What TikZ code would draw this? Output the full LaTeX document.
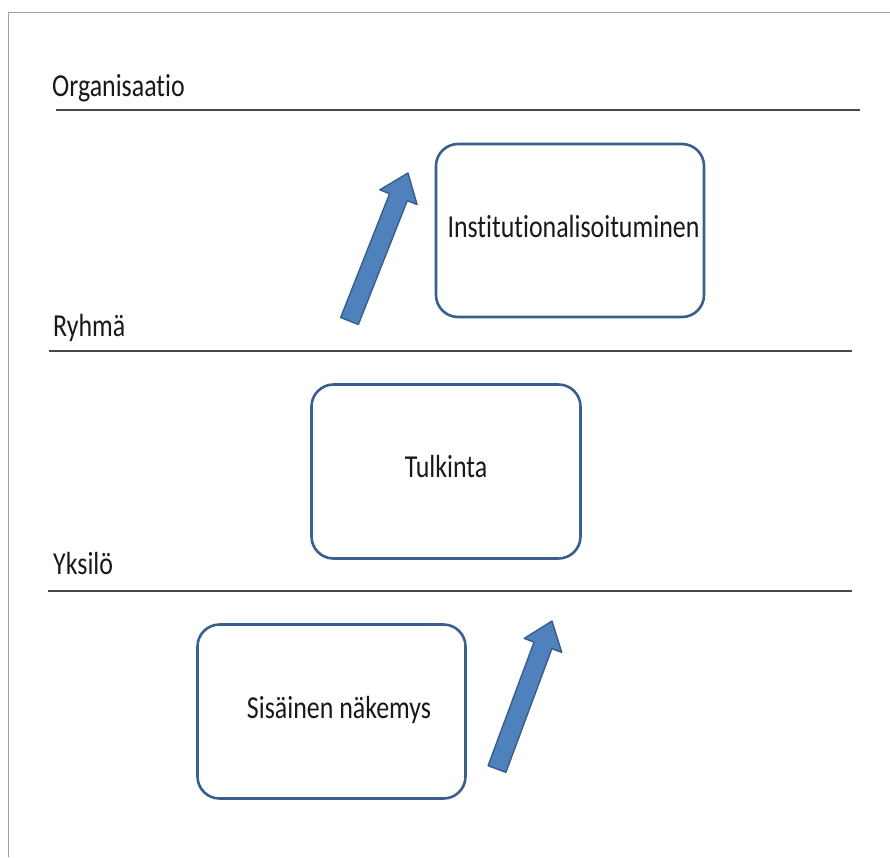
\documentclass[tikz,border=0pt]{standalone}
\usepackage{fontspec}
\setmainfont{Carlito}[FakeStretch=0.81, Ligatures=CommonOff]
\usetikzlibrary{calc}

\definecolor{boxline}{RGB}{58,95,142}
\definecolor{arrowfill}{RGB}{79,129,189}
\definecolor{arrowline}{RGB}{56,93,138}

\tikzset{
  levelline/.style={draw=black!72, line width=1.8pt},
  levellabel/.style={anchor=base west, inner sep=0pt, text=black!90,
    font=\fontsize{32}{38}\selectfont},
  stagebox/.style={draw=boxline, line width=2.6pt, rounded corners=22pt,
    fill=white, inner sep=0pt},
  stagetext/.style={anchor=base, inner sep=0pt, text=black!90,
    font=\fontsize{32}{38}\selectfont},
  blockarrow/.style={fill=arrowfill, draw=arrowline, line width=1.4pt,
    line join=round},
}

% block arrow from tail #1 to tip #2 (shaft half width 9.5, head half width 20, head length 26)
\newcommand{\blockarrowshape}[3]{%
  \coordinate (#3h) at ($(#2)!26pt!(#1)$);
  \path[blockarrow]
    ($(#1)!9.5pt!90:(#2)$) -- ($(#3h)!9.5pt!-90:(#1)$) --
    ($(#3h)!20pt!-90:(#1)$) -- (#2) --
    ($(#3h)!20pt!90:(#1)$) -- ($(#3h)!9.5pt!90:(#1)$) --
    ($(#1)!9.5pt!-90:(#2)$) -- cycle;
}

\begin{document}
\begin{tikzpicture}[x=1pt, y=-1pt]
  \useasboundingbox (0,0) rectangle (890,857);
  \fill[white] (0,0) rectangle (890,857);

  % page frame
  \draw[gray!75, line width=1pt] (8,857) -- (8,12) -- (890,12);

  % level separators
  \coordinate (orgL) at (56,110);  \coordinate (orgR) at (860,110);
  \coordinate (ryhL) at (49,351);  \coordinate (ryhR) at (852,351);
  \coordinate (yksL) at (48,591);  \coordinate (yksR) at (852,591);
  \draw[levelline] (orgL) -- (orgR);
  \draw[levelline] (ryhL) -- (ryhR);
  \draw[levelline] (yksL) -- (yksR);

  % level labels
  \node[levellabel] (org) at (52,96)  {Organisaatio};
  \node[levellabel] (ryh) at (53,336) {Ryhmä};
  \node[levellabel] (yks) at (53,574) {Yksilö};

  % stages
  \node[stagebox, minimum width=268pt, minimum height=173pt] (inst) at (570,230.5) {};
  \node[stagebox, minimum width=269pt, minimum height=174pt] (tulk) at (446,471.5) {};
  \node[stagebox, minimum width=268pt, minimum height=174pt] (sis)  at (331.5,711.5) {};

  \node[stagetext] (instT) at (573.5,237) {Institutionalisoituminen};
  \node[stagetext] (tulkT) at (446,477)   {Tulkinta};
  \node[stagetext] (sisT)  at (339,718)   {Sisäinen näkemys};

  % upward arrows
  \coordinate (upTail) at (349.5,321);
  \coordinate (upTip)  at (408,173);
  \blockarrowshape{upTail}{upTip}{up}

  \coordinate (loTail) at (497,769);
  \coordinate (loTip)  at (552,621);
  \blockarrowshape{loTail}{loTip}{lo}
\end{tikzpicture}
\end{document}
